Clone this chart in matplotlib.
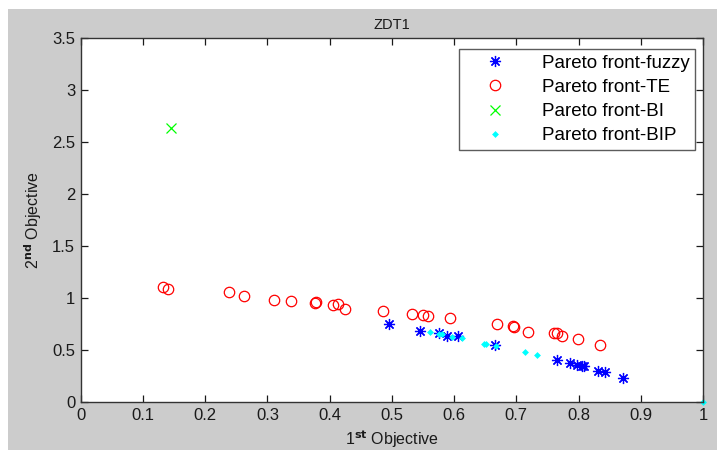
import matplotlib
matplotlib.use("Agg")
import matplotlib.pyplot as plt
from matplotlib.patches import Rectangle

plt.rcParams['font.family'] = ['Liberation Sans', 'DejaVu Sans']

# Pareto front-fuzzy
fuzzy_x = [0.496, 0.545, 0.576, 0.588, 0.606, 0.666, 0.765, 0.786, 0.797, 0.805, 0.808, 0.831, 0.843, 0.872]
fuzzy_y = [0.746, 0.682, 0.663, 0.634, 0.632, 0.552, 0.402, 0.376, 0.354, 0.347, 0.345, 0.297, 0.284, 0.230]

# Pareto front-TE
te_x = [0.133, 0.141, 0.239, 0.262, 0.310, 0.338, 0.376, 0.378, 0.406, 0.413, 0.425, 0.485,
        0.533, 0.550, 0.558, 0.593, 0.669, 0.694, 0.696, 0.719, 0.761, 0.766, 0.773, 0.799, 0.835]
te_y = [1.103, 1.088, 1.053, 1.017, 0.983, 0.967, 0.954, 0.958, 0.935, 0.938, 0.897, 0.871,
        0.849, 0.839, 0.826, 0.810, 0.746, 0.727, 0.724, 0.673, 0.663, 0.663, 0.634, 0.609, 0.552]

# Pareto front-BI
bi_x = [0.145]
bi_y = [2.635]

# Pareto front-BIP
bip_x = [0.561, 0.575, 0.580, 0.596, 0.612, 0.648, 0.652, 0.668, 0.714, 0.733, 1.0]
bip_y = [0.673, 0.657, 0.650, 0.625, 0.615, 0.562, 0.562, 0.539, 0.476, 0.456, 0.0]

labels = ['Pareto front-fuzzy', 'Pareto front-TE', 'Pareto front-BI', 'Pareto front-BIP']
xticks = [0, 0.1, 0.2, 0.3, 0.4, 0.5, 0.6, 0.7, 0.8, 0.9, 1]
xticklabels = ['0', '0.1', '0.2', '0.3', '0.4', '0.5', '0.6', '0.7', '0.8', '0.9', '1']
yticks = [0, 0.5, 1, 1.5, 2, 2.5, 3, 3.5]
yticklabels = ['0', '0.5', '1', '1.5', '2', '2.5', '3', '3.5']

fig = plt.figure(figsize=(7.17, 4.50), dpi=100)
fig.patch.set_facecolor('white')
fig.patches.append(Rectangle((8/717, 0), 1, 1 - 9/450, transform=fig.transFigure,
                             facecolor='#cccccc', edgecolor='none', zorder=-10))

ax = fig.add_axes([80.7/717, 1 - 402/450, (703 - 80.7)/717, (402 - 37.7)/450])
ax.set_facecolor('white')

ax.plot(fuzzy_x, fuzzy_y, linestyle='none', marker=(8, 2, 0), markersize=8,
        markeredgewidth=0.9, color='#0000ff', label=labels[0], clip_on=False)
ax.plot(te_x, te_y, linestyle='none', marker='o', markersize=7.5, markerfacecolor='none',
        markeredgewidth=0.9, markeredgecolor='#ff0000', label=labels[1], clip_on=False)
ax.plot(bi_x, bi_y, linestyle='none', marker='x', markersize=7, markeredgewidth=0.9,
        color='#00ff00', label=labels[2], clip_on=False)
ax.plot(bip_x, bip_y, linestyle='none', marker='D', markersize=3.5, markeredgewidth=0,
        color='#00ffff', label=labels[3], clip_on=False)

ax.set_xlim(0, 1)
ax.set_ylim(0, 3.5)
ax.set_xticks(xticks)
ax.set_xticklabels(xticklabels)
ax.set_yticks(yticks)
ax.set_yticklabels(yticklabels)
ax.tick_params(direction='in', length=5, width=0.9, top=True, right=True,
               labelsize=12, colors='#1a1a1a', pad=4)
for s in ax.spines.values():
    s.set_linewidth(1.0)
    s.set_color('#333333')

ax.set_title('ZDT1', fontsize=10.5, color='#1a1a1a', pad=6)
ax.set_xlabel('1$^{\\mathbf{st}}$ Objective', fontsize=11.5, color='#1a1a1a', labelpad=4)
ax.set_ylabel('2$^{\\mathbf{nd}}$ Objective', fontsize=11.5, color='#1a1a1a', labelpad=6)

leg = ax.legend(loc='upper right', fontsize=13.5, frameon=True, fancybox=False,
                edgecolor='#333333', borderpad=0.3, labelspacing=0.38,
                handlelength=3.2, handletextpad=0.9, borderaxespad=0.4,
                bbox_to_anchor=(0.999, 0.99))
leg.get_frame().set_linewidth(1.0)

fig.savefig('out.png', dpi=100, facecolor=fig.get_facecolor())
